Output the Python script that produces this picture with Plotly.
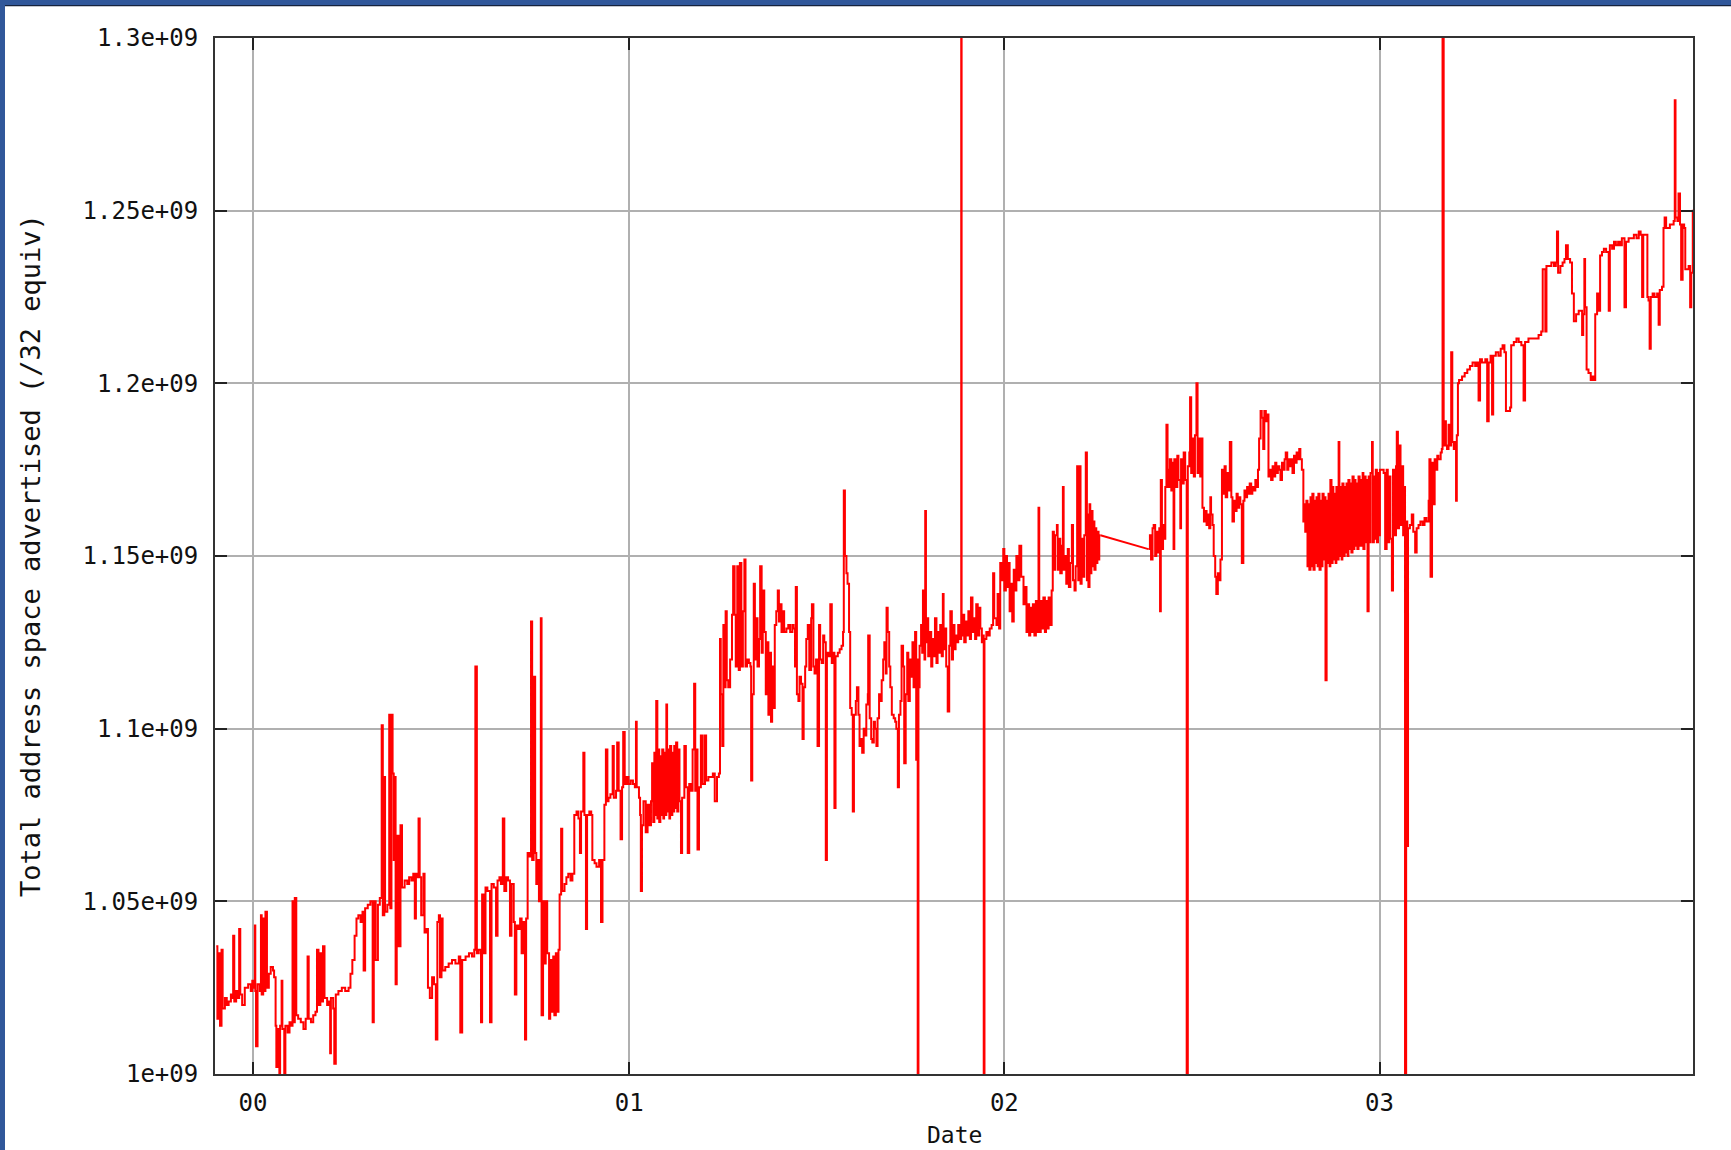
import numpy as np
import pandas as pd
import plotly.graph_objects as go

# ---- data: decimal-year dates and total advertised address space (millions of /32) ----
t_1999_2000 = [
    1999.902, 1999.905, 1999.909, 1999.912, 1999.916, 1999.919, 1999.925, 1999.930, 1999.935, 1999.941,
    1999.944, 1999.947, 1999.950, 1999.955, 1999.960, 1999.963, 1999.966, 1999.971, 1999.978, 1999.987,
    1999.994, 1999.998, 2000.003, 2000.005, 2000.006, 2000.008, 2000.012, 2000.018, 2000.021, 2000.023,
    2000.027, 2000.030, 2000.033, 2000.037, 2000.042, 2000.047, 2000.053, 2000.056, 2000.060, 2000.062,
    2000.066, 2000.070, 2000.072, 2000.076, 2000.078, 2000.083, 2000.086, 2000.092, 2000.097, 2000.102,
    2000.105, 2000.108, 2000.111, 2000.115, 2000.120, 2000.127, 2000.134, 2000.140, 2000.145, 2000.148,
    2000.154, 2000.160, 2000.166, 2000.170, 2000.174, 2000.179, 2000.182, 2000.186, 2000.190, 2000.197,
    2000.202, 2000.205, 2000.207, 2000.213, 2000.216, 2000.220, 2000.227, 2000.236, 2000.245, 2000.254,
    2000.259, 2000.264, 2000.270, 2000.275, 2000.280, 2000.286, 2000.291, 2000.294, 2000.298, 2000.305,
    2000.312, 2000.318, 2000.321, 2000.326, 2000.332, 2000.337, 2000.342, 2000.345, 2000.349, 2000.351,
    2000.357, 2000.362, 2000.365, 2000.368, 2000.371, 2000.374, 2000.376, 2000.379, 2000.382, 2000.387,
    2000.392, 2000.396, 2000.403, 2000.410, 2000.415, 2000.421, 2000.426, 2000.430, 2000.433, 2000.438,
    2000.440, 2000.443, 2000.447, 2000.453, 2000.456, 2000.460, 2000.465, 2000.470, 2000.476, 2000.481,
    2000.486, 2000.490, 2000.494, 2000.497, 2000.501, 2000.504, 2000.511, 2000.520, 2000.529, 2000.538,
    2000.547, 2000.551, 2000.556, 2000.565, 2000.574, 2000.582, 2000.588, 2000.591, 2000.595, 2000.600,
    2000.606, 2000.609, 2000.614, 2000.618, 2000.623, 2000.630, 2000.634, 2000.640, 2000.646, 2000.650,
    2000.655, 2000.659, 2000.664, 2000.668, 2000.673, 2000.678, 2000.683, 2000.687, 2000.693, 2000.696,
    2000.700, 2000.705, 2000.710, 2000.714, 2000.719, 2000.723, 2000.726, 2000.730, 2000.734, 2000.739,
    2000.742, 2000.746, 2000.750, 2000.753, 2000.757, 2000.760, 2000.765, 2000.767, 2000.771, 2000.774,
    2000.778, 2000.782, 2000.787, 2000.790, 2000.794, 2000.798, 2000.801, 2000.805, 2000.808, 2000.812,
    2000.815, 2000.819, 2000.822, 2000.828, 2000.833, 2000.838, 2000.844, 2000.849, 2000.854, 2000.860,
    2000.865, 2000.869, 2000.872, 2000.878, 2000.881, 2000.885, 2000.888, 2000.894, 2000.899, 2000.902,
    2000.908, 2000.913, 2000.920, 2000.925, 2000.929, 2000.934, 2000.938, 2000.942, 2000.945, 2000.950,
    2000.956, 2000.959, 2000.965, 2000.968, 2000.972, 2000.977, 2000.981, 2000.984, 2000.988, 2000.993,
    2000.998, 2001.004, 2001.009,
]
v_1999_2000 = [
    1037, 1016, 1035, 1014, 1036, 1019, 1022, 1020, 1021, 1023,
    1022, 1040, 1021, 1024, 1022, 1042, 1023, 1020, 1025, 1026,
    1024, 1027, 1025, 1043, 1024, 1008, 1026, 1024, 1046, 1023,
    1045, 1024, 1047, 1025, 1029, 1031, 1030, 1028, 1014, 1002,
    1013, 1000, 1014, 1027, 1013, 1000, 1014, 1012, 1015, 1014,
    1050, 1015, 1051, 1017, 1016, 1015, 1013, 1016, 1034, 1016,
    1015, 1017, 1018, 1036, 1020, 1035, 1021, 1037, 1022, 1020,
    1021, 1006, 1022, 1019, 1003, 1023, 1024, 1025, 1024, 1025,
    1029, 1033, 1040, 1045, 1046, 1044, 1047, 1030, 1048, 1049,
    1050, 1015, 1050, 1033, 1049, 1051, 1101, 1046, 1086, 1047,
    1049, 1104, 1048, 1104, 1087, 1062, 1086, 1026, 1069, 1037,
    1072, 1054, 1056, 1055, 1057, 1056, 1058, 1045, 1058, 1057,
    1074, 1057, 1046, 1058, 1041, 1042, 1025, 1022, 1028, 1026,
    1010, 1044, 1046, 1028, 1045, 1030, 1031, 1032, 1033, 1032,
    1034, 1012, 1033, 1034, 1035, 1034, 1036, 1118, 1035, 1036,
    1015, 1052, 1035, 1054, 1053, 1015, 1055, 1054, 1040, 1056,
    1057, 1055, 1074, 1053, 1057, 1056, 1040, 1055, 1044, 1023,
    1043, 1042, 1045, 1035, 1044, 1010, 1045, 1064, 1063, 1131,
    1062, 1115, 1064, 1055, 1062, 1050, 1132, 1017, 1050, 1032,
    1050, 1035, 1016, 1033, 1018, 1034, 1017, 1035, 1018, 1036,
    1052, 1071, 1053, 1055, 1057, 1058, 1056, 1058, 1075, 1076,
    1074, 1064, 1076, 1093, 1075, 1042, 1075, 1076, 1075, 1062,
    1061, 1060, 1062, 1044, 1062, 1078, 1094, 1079, 1080, 1081,
    1095, 1080, 1082, 1096, 1082, 1068, 1083, 1099, 1084, 1086,
    1084, 1085, 1085,
]

t_2001 = [
    2001.010, 2001.015, 2001.018, 2001.020, 2001.026, 2001.029, 2001.031, 2001.034, 2001.038, 2001.044,
    2001.049, 2001.054, 2001.058, 2001.061, 2001.064, 2001.067, 2001.069, 2001.072, 2001.075, 2001.077,
    2001.080, 2001.083, 2001.085, 2001.088, 2001.091, 2001.093, 2001.096, 2001.099, 2001.101, 2001.104,
    2001.107, 2001.109, 2001.112, 2001.115, 2001.117, 2001.120, 2001.123, 2001.125, 2001.128, 2001.131,
    2001.134, 2001.138, 2001.141, 2001.147, 2001.151, 2001.156, 2001.160, 2001.164, 2001.169, 2001.173,
    2001.176, 2001.179, 2001.182, 2001.186, 2001.191, 2001.196, 2001.202, 2001.205, 2001.211, 2001.218,
    2001.223, 2001.228, 2001.234, 2001.239, 2001.242, 2001.244, 2001.248, 2001.251, 2001.253, 2001.257,
    2001.260, 2001.264, 2001.269, 2001.274, 2001.277, 2001.281, 2001.284, 2001.288, 2001.292, 2001.295,
    2001.299, 2001.303, 2001.307, 2001.310, 2001.314, 2001.319, 2001.323, 2001.325, 2001.328, 2001.332,
    2001.335, 2001.339, 2001.342, 2001.346, 2001.349, 2001.353, 2001.356, 2001.360, 2001.364, 2001.367,
    2001.371, 2001.374, 2001.378, 2001.381, 2001.385, 2001.388, 2001.392, 2001.396, 2001.399, 2001.403,
    2001.406, 2001.410, 2001.413, 2001.419, 2001.424, 2001.429, 2001.435, 2001.438, 2001.442, 2001.444,
    2001.447, 2001.451, 2001.454, 2001.458, 2001.462, 2001.465, 2001.469, 2001.472, 2001.476, 2001.480,
    2001.485, 2001.487, 2001.491, 2001.494, 2001.498, 2001.502, 2001.506, 2001.509, 2001.513, 2001.517,
    2001.520, 2001.524, 2001.527, 2001.531, 2001.536, 2001.540, 2001.543, 2001.547, 2001.550, 2001.556,
    2001.561, 2001.566, 2001.570, 2001.572, 2001.575, 2001.579, 2001.582, 2001.586, 2001.589, 2001.593,
    2001.596, 2001.599, 2001.604, 2001.607, 2001.611, 2001.614, 2001.618, 2001.621, 2001.625, 2001.628,
    2001.632, 2001.636, 2001.637, 2001.641, 2001.645, 2001.648, 2001.652, 2001.655, 2001.659, 2001.662,
    2001.666, 2001.669, 2001.673, 2001.677, 2001.680, 2001.684, 2001.686, 2001.689, 2001.693, 2001.696,
    2001.700, 2001.705, 2001.709, 2001.712, 2001.716, 2001.719, 2001.723, 2001.726, 2001.730, 2001.733,
    2001.737, 2001.741, 2001.744, 2001.748, 2001.751, 2001.755, 2001.758, 2001.762, 2001.765, 2001.767,
    2001.769, 2001.771, 2001.774, 2001.778, 2001.781, 2001.783, 2001.787, 2001.789, 2001.791, 2001.794,
    2001.797, 2001.801, 2001.805, 2001.808, 2001.812, 2001.815, 2001.819, 2001.822, 2001.826, 2001.829,
    2001.833, 2001.836, 2001.838, 2001.842, 2001.845, 2001.849, 2001.853, 2001.856, 2001.860, 2001.863,
    2001.867, 2001.870, 2001.874, 2001.877, 2001.881, 2001.885, 2001.886, 2001.890, 2001.893, 2001.897,
    2001.901, 2001.904, 2001.908, 2001.911, 2001.915, 2001.918, 2001.922, 2001.925, 2001.929, 2001.933,
    2001.936, 2001.940, 2001.943, 2001.945, 2001.947, 2001.952, 2001.956, 2001.961, 2001.966, 2001.970,
    2001.973, 2001.979, 2001.982, 2001.986, 2001.989, 2001.993, 2001.997, 2002.000, 2002.004, 2002.007,
    2002.011, 2002.014, 2002.018, 2002.021, 2002.025, 2002.029, 2002.032, 2002.036, 2002.040, 2002.045,
]
v_2001 = [
    1084, 1083, 1102, 1083, 1080, 1075, 1053, 1072, 1079, 1070,
    1078, 1072, 1079, 1090, 1073, 1093, 1075, 1108, 1074, 1094,
    1073, 1092, 1075, 1094, 1074, 1093, 1075, 1107, 1076, 1094,
    1074, 1095, 1075, 1093, 1076, 1095, 1077, 1096, 1076, 1094,
    1079, 1064, 1080, 1095, 1083, 1064, 1084, 1082, 1094, 1113,
    1082, 1094, 1065, 1083, 1098, 1084, 1098, 1085, 1086, 1086,
    1087, 1079, 1086, 1087, 1126, 1110, 1095, 1130, 1112, 1134,
    1114, 1112, 1120, 1133, 1147, 1133, 1118, 1147, 1117, 1148,
    1118, 1134, 1149, 1118, 1120, 1119, 1118, 1085, 1110, 1142,
    1120, 1132, 1118, 1126, 1147, 1122, 1140, 1128, 1110, 1125,
    1104, 1122, 1102, 1118, 1106, 1130, 1134, 1140, 1131, 1136,
    1128, 1134, 1128, 1129, 1130, 1128, 1130, 1129, 1118, 1141,
    1110, 1108, 1115, 1113, 1097, 1112, 1118, 1126, 1130, 1117,
    1132, 1136, 1118, 1116, 1120, 1095, 1130, 1120, 1119, 1127,
    1125, 1062, 1122, 1121, 1136, 1119, 1122, 1077, 1121, 1122,
    1123, 1124, 1128, 1169, 1150, 1145, 1142, 1128, 1106, 1104,
    1076, 1104, 1108, 1112, 1104, 1095, 1097, 1093, 1100, 1098,
    1107, 1110, 1127, 1103, 1097, 1096, 1102, 1100, 1095, 1103,
    1110, 1108, 1114, 1120, 1125, 1116, 1135, 1128, 1118, 1112,
    1104, 1103, 1102, 1100, 1083, 1104, 1108, 1124, 1118, 1090,
    1110, 1122, 1108, 1120, 1115, 1125, 1112, 1128, 1091, 1120,
    990, 1112, 1124, 1130, 1122, 1140, 1120, 1163, 1125, 1132,
    1121, 1128, 1118, 1126, 1121, 1132, 1119, 1128, 1122, 1130,
    1121, 1139, 1123, 1129, 1118, 1105, 1124, 1134, 1120, 1130,
    1123, 1127, 1125, 1130, 1126, 1310, 1127, 1133, 1125, 1131,
    1127, 1134, 1126, 1138, 1128, 1132, 1126, 1136, 1127, 1135,
    1129, 1125, 1127, 990, 1126, 1128, 1127, 1129, 1130, 1145,
    1132, 1130, 1139, 1129, 1148, 1143, 1152, 1140, 1150, 1141,
    1148, 1134, 1142, 1131, 1146, 1140, 1150, 1143, 1153, 1144,
]

t_2002 = [
    2002.051, 2002.055, 2002.059, 2002.062, 2002.066, 2002.069, 2002.073, 2002.076, 2002.080, 2002.084,
    2002.087, 2002.091, 2002.093, 2002.097, 2002.100, 2002.104, 2002.108, 2002.111, 2002.115, 2002.118,
    2002.122, 2002.126, 2002.129, 2002.132, 2002.135, 2002.140, 2002.142, 2002.146, 2002.149, 2002.153,
    2002.156, 2002.158, 2002.162, 2002.165, 2002.169, 2002.172, 2002.176, 2002.180, 2002.183, 2002.187,
    2002.190, 2002.194, 2002.197, 2002.200, 2002.203, 2002.206, 2002.210, 2002.213, 2002.217, 2002.220,
    2002.222, 2002.224, 2002.227, 2002.229, 2002.232, 2002.235, 2002.237, 2002.240, 2002.243, 2002.245,
    2002.248, 2002.251, 2002.253, 2002.256, 2002.384, 2002.388, 2002.391, 2002.395, 2002.398, 2002.402,
    2002.405, 2002.409, 2002.413, 2002.415, 2002.417, 2002.420, 2002.423, 2002.427, 2002.429, 2002.432,
    2002.435, 2002.437, 2002.441, 2002.445, 2002.448, 2002.451, 2002.453, 2002.457, 2002.461, 2002.464,
    2002.469, 2002.471, 2002.475, 2002.478, 2002.482, 2002.486, 2002.489, 2002.493, 2002.495, 2002.498,
    2002.501, 2002.505, 2002.508, 2002.512, 2002.515, 2002.518, 2002.522, 2002.525, 2002.528, 2002.532,
    2002.535, 2002.539, 2002.542, 2002.546, 2002.549, 2002.551, 2002.555, 2002.558, 2002.562, 2002.565,
    2002.569, 2002.573, 2002.576, 2002.580, 2002.583, 2002.587, 2002.590, 2002.594, 2002.597, 2002.601,
    2002.605, 2002.608, 2002.612, 2002.615, 2002.619, 2002.622, 2002.626, 2002.629, 2002.633, 2002.637,
    2002.640, 2002.644, 2002.647, 2002.651, 2002.654, 2002.658, 2002.661, 2002.665, 2002.669, 2002.672,
    2002.676, 2002.679, 2002.683, 2002.686, 2002.690, 2002.693, 2002.697, 2002.701, 2002.704, 2002.708,
    2002.711, 2002.715, 2002.718, 2002.722, 2002.725, 2002.729, 2002.733, 2002.736, 2002.740, 2002.743,
    2002.747, 2002.750, 2002.754, 2002.757, 2002.761, 2002.765, 2002.768, 2002.772, 2002.775, 2002.779,
    2002.782, 2002.786, 2002.789, 2002.793, 2002.797, 2002.799, 2002.802, 2002.805, 2002.808, 2002.811,
    2002.813, 2002.816, 2002.819, 2002.821, 2002.824, 2002.827, 2002.829, 2002.832, 2002.835, 2002.837,
    2002.840, 2002.843, 2002.845, 2002.848, 2002.851, 2002.853, 2002.856, 2002.859, 2002.861, 2002.864,
    2002.867, 2002.869, 2002.872, 2002.875, 2002.877, 2002.880, 2002.883, 2002.885, 2002.888, 2002.891,
    2002.893, 2002.896, 2002.899, 2002.901, 2002.904, 2002.907, 2002.909, 2002.912, 2002.915, 2002.917,
    2002.920, 2002.923, 2002.925, 2002.928, 2002.931, 2002.933, 2002.936, 2002.939, 2002.941, 2002.944,
    2002.947, 2002.949, 2002.952, 2002.955, 2002.957, 2002.960, 2002.963, 2002.965, 2002.968, 2002.971,
    2002.973, 2002.976, 2002.980, 2002.982, 2002.985, 2002.988, 2002.990, 2002.993, 2002.996, 2002.998,
    2003.001,
]
v_2002 = [
    1136, 1141, 1128, 1136, 1127, 1135, 1128, 1136, 1127, 1137,
    1128, 1164, 1128, 1137, 1129, 1138, 1128, 1137, 1129, 1138,
    1130, 1140, 1157, 1146, 1156, 1159, 1146, 1155, 1145, 1153,
    1170, 1146, 1150, 1142, 1152, 1141, 1148, 1159, 1143, 1140,
    1147, 1176, 1143, 1176, 1142, 1155, 1144, 1156, 1180, 1143,
    1162, 1141, 1165, 1145, 1163, 1147, 1160, 1146, 1158, 1148,
    1157, 1149, 1156, 1156, 1152, 1156, 1149, 1158, 1159, 1150,
    1157, 1151, 1158, 1134, 1172, 1152, 1159, 1155, 1170, 1188,
    1175, 1170, 1178, 1169, 1177, 1152, 1178, 1170, 1179, 1172,
    1158, 1178, 1171, 1180, 1172, 990, 1176, 1180, 1196, 1174,
    1184, 1173, 1185, 1200, 1174, 1184, 1173, 1184, 1164, 1160,
    1163, 1159, 1162, 1158, 1167, 1162, 1159, 1150, 1144, 1139,
    1145, 1143, 1149, 1175, 1168, 1176, 1167, 1174, 1169, 1183,
    1167, 1160, 1166, 1163, 1168, 1164, 1167, 1165, 1148, 1166,
    1169, 1167, 1170, 1168, 1171, 1168, 1170, 1169, 1172, 1170,
    1175, 1184, 1192, 1190, 1181, 1192, 1189, 1191, 1173, 1175,
    1172, 1176, 1173, 1177, 1174, 1176, 1175, 1172, 1177, 1175,
    1178, 1180, 1175, 1178, 1176, 1178, 1174, 1179, 1177, 1180,
    1178, 1181, 1178, 1175, 1160, 1165, 1157, 1166, 1147, 1165,
    1146, 1167, 1147, 1168, 1146, 1166, 1148, 1167, 1147, 1168,
    1146, 1166, 1147, 1168, 1149, 1167, 1114, 1166, 1148, 1168,
    1147, 1172, 1148, 1170, 1149, 1168, 1148, 1170, 1149, 1183,
    1150, 1170, 1149, 1171, 1150, 1170, 1151, 1171, 1150, 1172,
    1152, 1171, 1151, 1173, 1152, 1172, 1153, 1171, 1152, 1173,
    1153, 1172, 1153, 1174, 1152, 1173, 1154, 1172, 1134, 1173,
    1154, 1174, 1183, 1154, 1173, 1155, 1175, 1154, 1174, 1156,
    1175,
]

t_2003 = [
    2003.011, 2003.015, 2003.019, 2003.022, 2003.026, 2003.029, 2003.033, 2003.036, 2003.040, 2003.044,
    2003.046, 2003.049, 2003.052, 2003.056, 2003.059, 2003.063, 2003.067, 2003.068, 2003.071, 2003.074,
    2003.076, 2003.081, 2003.086, 2003.090, 2003.095, 2003.099, 2003.104, 2003.109, 2003.115, 2003.120,
    2003.125, 2003.131, 2003.133, 2003.136, 2003.140, 2003.143, 2003.147, 2003.150, 2003.154, 2003.157,
    2003.163, 2003.166, 2003.168, 2003.171, 2003.173, 2003.177, 2003.180, 2003.184, 2003.188, 2003.191,
    2003.194, 2003.198, 2003.202, 2003.204, 2003.206, 2003.209, 2003.212, 2003.220, 2003.227, 2003.234,
    2003.241, 2003.248, 2003.255, 2003.260, 2003.264, 2003.268, 2003.273, 2003.282, 2003.287, 2003.291,
    2003.296, 2003.300, 2003.303, 2003.310, 2003.317, 2003.323, 2003.328, 2003.333, 2003.337, 2003.342,
    2003.348, 2003.351, 2003.358, 2003.365, 2003.371, 2003.378, 2003.384, 2003.388, 2003.397, 2003.406,
    2003.415, 2003.424, 2003.431, 2003.435, 2003.438, 2003.442, 2003.445, 2003.451, 2003.458, 2003.465,
    2003.470, 2003.473, 2003.476, 2003.482, 2003.488, 2003.493, 2003.497, 2003.502, 2003.508, 2003.513,
    2003.518, 2003.524, 2003.531, 2003.536, 2003.540, 2003.543, 2003.546, 2003.548, 2003.552, 2003.557,
    2003.563, 2003.568, 2003.572, 2003.575, 2003.580, 2003.584, 2003.588, 2003.593, 2003.598, 2003.604,
    2003.611, 2003.614, 2003.620, 2003.625, 2003.630, 2003.636, 2003.641, 2003.646, 2003.653, 2003.657,
    2003.664, 2003.671, 2003.678, 2003.685, 2003.691, 2003.696, 2003.700, 2003.703, 2003.708, 2003.714,
    2003.717, 2003.720, 2003.723, 2003.728, 2003.733, 2003.740, 2003.744, 2003.747, 2003.753, 2003.757,
    2003.760, 2003.764, 2003.769, 2003.774, 2003.780, 2003.784, 2003.787, 2003.789, 2003.794, 2003.797,
    2003.801, 2003.804, 2003.808, 2003.812, 2003.815, 2003.820, 2003.824, 2003.828, 2003.831, 2003.835,
    2003.838,
]
v_2003 = [
    1174, 1152, 1175, 1154, 1173, 1155, 1140, 1175, 1156, 1176,
    1186, 1158, 1182, 1159, 1176, 1156, 1170, 990, 1160, 1066,
    1158, 1159, 1162, 1157, 1151, 1158, 1159, 1160, 1159, 1161,
    1160, 1166, 1178, 1144, 1177, 1165, 1178, 1175, 1179, 1178,
    1180, 1181, 1310, 1182, 1189, 1182, 1181, 1188, 1182, 1209,
    1183, 1181, 1183, 1166, 1185, 1200, 1201, 1202, 1203, 1204,
    1205, 1206, 1205, 1206, 1195, 1207, 1206, 1207, 1189, 1206,
    1208, 1191, 1208, 1209, 1208, 1210, 1211, 1209, 1192, 1192,
    1193, 1211, 1212, 1213, 1212, 1211, 1195, 1212, 1213, 1213,
    1213, 1214, 1215, 1233, 1233, 1215, 1234, 1234, 1235, 1234,
    1235, 1244, 1232, 1234, 1235, 1236, 1240, 1236, 1235, 1226,
    1218, 1220, 1221, 1221, 1214, 1220, 1236, 1222, 1204, 1203,
    1201, 1202, 1201, 1220, 1226, 1221, 1237, 1238, 1239, 1238,
    1221, 1240, 1239, 1241, 1240, 1241, 1240, 1242, 1222, 1241,
    1242, 1242, 1243, 1242, 1244, 1243, 1225, 1243, 1243, 1225,
    1224, 1210, 1225, 1226, 1225, 1226, 1217, 1227, 1228, 1245,
    1248, 1245, 1245, 1246, 1246, 1247, 1282, 1248, 1247, 1255,
    1246, 1230, 1246, 1245, 1233, 1233, 1234, 1222, 1232, 1250,
    1250,
]

# data outage in 2002: the two samples on either side are joined by a straight line
gap_start, gap_end = 2002.256, 2002.384

year_ticks = ["2000-01-01", "2001-01-01", "2002-01-01", "2003-01-01"]
year_labels = ["00", "01", "02", "03"]
y_ticks = [1.0e9, 1.05e9, 1.1e9, 1.15e9, 1.2e9, 1.25e9, 1.3e9]
y_labels = ["1e+09", "1.05e+09", "1.1e+09", "1.15e+09", "1.2e+09", "1.25e+09", "1.3e+09"]
x_range = ["1999-11-25", "2003-11-02"]
y_range = [1.0e9, 1.3e9]


def dec_year_to_date(y):
    yr = int(np.floor(y))
    start = pd.Timestamp(year=yr, month=1, day=1)
    end = pd.Timestamp(year=yr + 1, month=1, day=1)
    return start + (end - start) * (y - yr)


all_t = t_1999_2000 + t_2001 + t_2002 + t_2003
all_v = v_1999_2000 + v_2001 + v_2002 + v_2003
assert len(all_t) == len(all_v)
df = pd.DataFrame({"t": all_t, "v": all_v})
df["date"] = [dec_year_to_date(y) for y in df["t"]]
df["value"] = df["v"] * 1e6

before = df[df["t"] <= gap_start]
after = df[df["t"] >= gap_end]
bridge = df[(df["t"] == gap_start) | (df["t"] == gap_end)]

W, H = 1731, 1150
ML, MR, MT, MB = 215, 38, 38, 76
PW, PH = W - ML - MR, H - MT - MB

FONT = "DejaVu Sans Mono"
BLUE = "#30579a"
RED = "#ff0000"

fig = go.Figure()
for part, shape in ((before, "hv"), (bridge, "linear"), (after, "hv")):
    fig.add_trace(go.Scatter(
        x=part["date"], y=part["value"], mode="lines",
        line=dict(color=RED, width=2, shape=shape, simplify=False),
        showlegend=False, hoverinfo="x+y",
    ))

axis_common = dict(
    showgrid=True, gridcolor="#b0b0b0", gridwidth=1.5,
    showline=True, linecolor="#333333", linewidth=2, mirror="allticks",
    ticks="inside", ticklen=12, tickwidth=2, tickcolor="#222222",
    zeroline=False,
    tickfont=dict(family=FONT, size=24, color="#111111"),
)

fig.update_layout(
    width=W, height=H,
    margin=dict(l=ML, r=MR, t=MT, b=MB),
    paper_bgcolor="white", plot_bgcolor="white",
    xaxis=dict(type="date", range=x_range, tickmode="array",
               tickvals=year_ticks, ticktext=year_labels,
               ticklabelstandoff=6, **axis_common),
    yaxis=dict(range=y_range, tickmode="array",
               tickvals=y_ticks, ticktext=y_labels,
               ticklabelstandoff=10, **axis_common),
    annotations=[
        dict(text="Date", xref="paper", yref="paper", x=0.5, y=0,
             xanchor="center", yanchor="middle", yshift=-61, showarrow=False,
             font=dict(family=FONT, size=23, color="#111111")),
        dict(text="Total address space advertised (/32 equiv)", xref="paper", yref="paper",
             x=0, y=0.5, xanchor="center", yanchor="middle", xshift=-185, textangle=-90,
             showarrow=False, font=dict(family=FONT, size=27, color="#111111")),
    ],
    shapes=[
        dict(type="rect", xref="paper", yref="paper", layer="above",
             x0=-ML / PW, x1=(-ML + 5) / PW, y0=-MB / PH, y1=1 + MT / PH,
             fillcolor=BLUE, line=dict(width=0)),
        dict(type="rect", xref="paper", yref="paper", layer="above",
             x0=-ML / PW, x1=1 + MR / PW, y0=1 + (MT - 5) / PH, y1=1 + MT / PH,
             fillcolor=BLUE, line=dict(width=0)),
        dict(type="rect", xref="paper", yref="paper", layer="above",
             x0=(-ML + 5) / PW, x1=1 + MR / PW, y0=1 + (MT - 6.3) / PH, y1=1 + (MT - 5) / PH,
             fillcolor="#15223d", line=dict(width=0)),
    ],
)

fig.write_html("out.html", config={"displayModeBar": False},
               post_script="document.body.style.margin='0px';")
